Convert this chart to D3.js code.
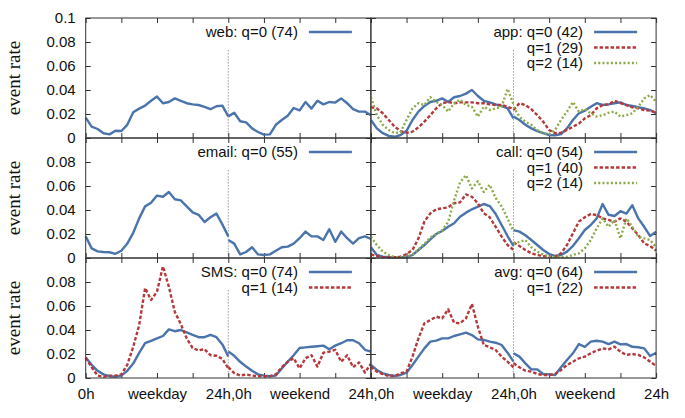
<!DOCTYPE html>
<html>
<head>
<meta charset="utf-8">
<script src="https://cdn.jsdelivr.net/npm/d3@7"></script>
<style>
body { margin: 0; background: #fff; }
</style>
</head>
<body>
<script>
// hour of the day for each sample, weekday and weekend both go 0h..24h
let hours = d3.range(0, 25);

// event rates : [weekday, weekend]
let webQ0 = [
    [0.017, 0.0095, 0.0075, 0.004, 0.003, 0.006, 0.0058, 0.011, 0.0215, 0.0245, 0.027, 0.031, 0.0345, 0.029, 0.030, 0.033, 0.031, 0.029, 0.028, 0.0275, 0.026, 0.024, 0.0265, 0.027, 0.018],
    [0.018, 0.021, 0.014, 0.013, 0.008, 0.005, 0.0028, 0.003, 0.011, 0.015, 0.0185, 0.025, 0.023, 0.030, 0.0245, 0.031, 0.028, 0.030, 0.0295, 0.033, 0.029, 0.024, 0.022, 0.022, 0.019]
];
let emailQ0 = [
    [0.018, 0.008, 0.0055, 0.005, 0.0048, 0.0035, 0.006, 0.012, 0.021, 0.033, 0.043, 0.046, 0.052, 0.051, 0.055, 0.049, 0.048, 0.043, 0.038, 0.036, 0.030, 0.034, 0.037, 0.028, 0.018],
    [0.015, 0.012, 0.003, 0.005, 0.009, 0.003, 0.0025, 0.003, 0.006, 0.009, 0.0095, 0.012, 0.0165, 0.022, 0.018, 0.018, 0.015, 0.024, 0.0135, 0.022, 0.0165, 0.012, 0.0165, 0.018, 0.016]
];
let smsQ0 = [
    [0.017, 0.011, 0.006, 0.003, 0.0015, 0.001, 0.002, 0.006, 0.012, 0.021, 0.029, 0.031, 0.033, 0.035, 0.0405, 0.039, 0.040, 0.038, 0.036, 0.034, 0.034, 0.036, 0.034, 0.028, 0.018],
    [0.022, 0.0185, 0.0135, 0.0095, 0.006, 0.003, 0.002, 0.0015, 0.002, 0.008, 0.0135, 0.019, 0.025, 0.0255, 0.026, 0.0265, 0.027, 0.024, 0.027, 0.029, 0.0315, 0.0315, 0.029, 0.0235, 0.022]
];
let smsQ1 = [
    [0.017, 0.009, 0.002, 0.001, 0.002, 0.002, 0.003, 0.011, 0.026, 0.044, 0.075, 0.065, 0.072, 0.093, 0.076, 0.055, 0.045, 0.033, 0.025, 0.023, 0.024, 0.019, 0.0185, 0.016, 0.008],
    [0.009, 0.004, 0.002, 0.003, 0.002, 0.0015, 0.0015, 0.0015, 0.003, 0.009, 0.0135, 0.0165, 0.008, 0.0165, 0.019, 0.0095, 0.021, 0.022, 0.0235, 0.0135, 0.019, 0.009, 0.013, 0.0045, 0.012]
];
let appQ0 = [
    [0.015, 0.008, 0.004, 0.0017, 0.001, 0.0025, 0.006, 0.015, 0.022, 0.0267, 0.030, 0.031, 0.033, 0.030, 0.034, 0.035, 0.037, 0.040, 0.035, 0.031, 0.0297, 0.028, 0.0267, 0.0247, 0.0164],
    [0.0178, 0.015, 0.011, 0.008, 0.0058, 0.004, 0.0025, 0.0022, 0.0033, 0.008, 0.015, 0.0206, 0.0228, 0.026, 0.029, 0.0275, 0.028, 0.029, 0.0297, 0.0275, 0.0267, 0.0256, 0.0247, 0.0233, 0.0206]
];
let appQ1 = [
    [0.0256, 0.0247, 0.0206, 0.015, 0.0094, 0.0058, 0.0044, 0.0053, 0.0089, 0.0136, 0.019, 0.0247, 0.029, 0.030, 0.029, 0.0297, 0.0297, 0.0297, 0.029, 0.029, 0.028, 0.0275, 0.0275, 0.026, 0.024],
    [0.0233, 0.029, 0.0275, 0.024, 0.019, 0.0136, 0.0067, 0.004, 0.0044, 0.0067, 0.0094, 0.012, 0.0164, 0.019, 0.0247, 0.0275, 0.028, 0.031, 0.029, 0.0275, 0.0256, 0.0247, 0.0233, 0.0228, 0.021]
];
let appQ2 = [
    [0.034, 0.019, 0.011, 0.0067, 0.004, 0.005, 0.015, 0.0247, 0.029, 0.0275, 0.034, 0.030, 0.0275, 0.022, 0.029, 0.032, 0.0275, 0.026, 0.0178, 0.026, 0.0233, 0.0247, 0.026, 0.041, 0.028],
    [0.026, 0.0178, 0.0136, 0.011, 0.0067, 0.004, 0.0033, 0.0067, 0.015, 0.022, 0.030, 0.022, 0.024, 0.0206, 0.0178, 0.019, 0.021, 0.022, 0.0178, 0.019, 0.0206, 0.026, 0.033, 0.0358, 0.030]
];
let callQ0 = [
    [0.0089, 0.0025, 0.0011, 0.0006, 0.0005, 0.0005, 0.0006, 0.0025, 0.0067, 0.0108, 0.0156, 0.020, 0.0225, 0.026, 0.029, 0.0344, 0.0378, 0.0406, 0.0428, 0.045, 0.0433, 0.0367, 0.0275, 0.0183, 0.010],
    [0.0233, 0.022, 0.019, 0.015, 0.0108, 0.0067, 0.0033, 0.0017, 0.0025, 0.0053, 0.010, 0.0164, 0.0233, 0.0275, 0.033, 0.045, 0.036, 0.035, 0.039, 0.037, 0.044, 0.033, 0.026, 0.0183, 0.022]
];
let callQ1 = [
    [0.003, 0.0017, 0.0008, 0.0006, 0.0006, 0.0011, 0.0033, 0.0067, 0.0164, 0.0303, 0.0372, 0.0406, 0.0414, 0.0422, 0.0456, 0.0464, 0.053, 0.051, 0.0456, 0.0372, 0.0339, 0.026, 0.0178, 0.0108, 0.0067],
    [0.013, 0.010, 0.0067, 0.0039, 0.0025, 0.0017, 0.0011, 0.0011, 0.0039, 0.0108, 0.0206, 0.0303, 0.0339, 0.0367, 0.0358, 0.033, 0.0317, 0.0303, 0.033, 0.0303, 0.0247, 0.0192, 0.0122, 0.010, 0.0061]
];
let callQ2 = [
    [0.0178, 0.0108, 0.0053, 0.0025, 0.0006, 0.0006, 0.001, 0.003, 0.0072, 0.0117, 0.017, 0.020, 0.023, 0.030, 0.048, 0.063, 0.069, 0.058, 0.064, 0.055, 0.061, 0.050, 0.043, 0.033, 0.022],
    [0.012, 0.0135, 0.015, 0.0089, 0.0053, 0.003, 0.0011, 0.0008, 0.0008, 0.001, 0.0025, 0.0039, 0.008, 0.015, 0.0247, 0.033, 0.026, 0.0317, 0.0164, 0.033, 0.026, 0.0178, 0.0164, 0.015, 0.0089]
];
let avgQ0 = [
    [0.011, 0.0067, 0.0039, 0.0025, 0.0017, 0.0025, 0.0044, 0.0108, 0.0178, 0.0247, 0.0303, 0.0311, 0.033, 0.033, 0.035, 0.0364, 0.0378, 0.0358, 0.0322, 0.0317, 0.0303, 0.0294, 0.0275, 0.0211, 0.0136],
    [0.0206, 0.0178, 0.0122, 0.0072, 0.0072, 0.0033, 0.003, 0.0025, 0.0089, 0.015, 0.0206, 0.0283, 0.026, 0.0303, 0.031, 0.0303, 0.0283, 0.0303, 0.028, 0.0283, 0.026, 0.0256, 0.0247, 0.0183, 0.0211]
];
let avgQ1 = [
    [0.0094, 0.0053, 0.0033, 0.0017, 0.0017, 0.0039, 0.0053, 0.0178, 0.033, 0.0456, 0.0483, 0.0511, 0.0497, 0.0572, 0.0461, 0.0456, 0.0497, 0.0617, 0.0428, 0.0275, 0.0256, 0.0233, 0.0178, 0.0136, 0.0089],
    [0.0122, 0.0089, 0.0061, 0.0053, 0.0033, 0.0025, 0.0025, 0.0033, 0.0067, 0.0108, 0.0136, 0.0164, 0.0178, 0.0206, 0.0228, 0.0247, 0.0239, 0.0261, 0.0219, 0.0192, 0.020, 0.0192, 0.0172, 0.0136, 0.010]
];

let yTicks = [0, 0.02, 0.04, 0.06, 0.08, 0.1];
let xTicks = d3.range(0, 49, 6);
let xLabels = {0: "0h", 12: "weekday", 24: "24h,0h", 36: "weekend", 48: "24h"};

// one entry per panel, legend counts in brackets
let panels = [
    {row: 0, col: 0, name: "web", series: [{q: 0, n: 74, data: webQ0}]},
    {row: 0, col: 1, name: "app", series: [{q: 0, n: 42, data: appQ0}, {q: 1, n: 29, data: appQ1}, {q: 2, n: 14, data: appQ2}]},
    {row: 1, col: 0, name: "email", series: [{q: 0, n: 55, data: emailQ0}]},
    {row: 1, col: 1, name: "call", series: [{q: 0, n: 54, data: callQ0}, {q: 1, n: 40, data: callQ1}, {q: 2, n: 14, data: callQ2}]},
    {row: 2, col: 0, name: "SMS", series: [{q: 0, n: 74, data: smsQ0}, {q: 1, n: 14, data: smsQ1}]},
    {row: 2, col: 1, name: "avg", series: [{q: 0, n: 64, data: avgQ0}, {q: 1, n: 22, data: avgQ1}]}
];

let styles = [
    {color: "#4a74ab", dash: null},
    {color: "#b5393b", dash: "3.5,2"},
    {color: "#8cab48", dash: "2,2.2"}
];

let width = 685;
let height = 418;
let marges = {top: 18, left: 85.7};
let panelW = 285.2;
let panelH = 120;
let police = "'Liberation Sans', Arial, sans-serif";

let svg = d3.select("body").append("svg")
    .attr("width", width)
    .attr("height", height)
    .style("background", "#fff");

panels.forEach(function(p) {
    let x0 = marges.left + p.col * panelW;
    let y0 = marges.top + p.row * panelH;

    let x = d3.scaleLinear().domain([0, 48]).range([x0, x0 + panelW]);
    let y = d3.scaleLinear().domain([0, 0.1]).range([y0 + panelH, y0]);

    let g = svg.append("g").attr("class", "panel");

    // dotted separator between weekday and weekend
    g.append("line")
        .attr("x1", x(24)).attr("x2", x(24))
        .attr("y1", y(0.073)).attr("y2", y(0))
        .attr("stroke", "#6e6e6e")
        .attr("stroke-width", 1)
        .attr("stroke-dasharray", "1,2");

    // ticks on all four sides, pointing inwards
    let left = d3.axisLeft(y).tickValues(yTicks).tickSize(-5).tickPadding(10)
        .tickFormat(d => (p.col === 0 && (d < 0.09 || p.row === 0)) ? (d === 0 ? "0" : String(+d.toFixed(2))) : "");
    let right = d3.axisRight(y).tickValues(yTicks).tickSize(-5).tickFormat("");
    let top = d3.axisTop(x).tickValues(xTicks).tickSize(-5).tickFormat("");
    let bottom = d3.axisBottom(x).tickValues(xTicks).tickSize(-5).tickPadding(10)
        .tickFormat(function(d) {
            if (p.row !== 2) return "";
            if (p.col === 1 && d === 0) return "";
            if (p.col === 0 && d === 48) return "24h,0h";
            return xLabels[d] || "";
        });

    [[left, "translate(" + x0 + ",0)"], [right, "translate(" + (x0 + panelW) + ",0)"],
     [top, "translate(0," + y0 + ")"], [bottom, "translate(0," + (y0 + panelH) + ")"]]
        .forEach(function(a) {
            let ax = g.append("g")
                .attr("transform", a[1])
                .style("color", "#333")
                .style("font-family", police)
                .style("font-size", "15px")
                .call(a[0]);
            ax.select(".domain").remove();
            ax.selectAll("text").attr("fill", "#111");
        });

    // the curves, weekday and weekend drawn as two separate pieces
    let line = d3.line()
        .x(d => x(d.h))
        .y(d => y(d.v));

    p.series.forEach(function(s) {
        let st = styles[s.q];
        s.data.forEach(function(part, k) {
            let pts = hours.map((h, i) => ({h: h + 24 * k, v: part[i]}));
            g.append("path")
                .datum(pts)
                .attr("d", line)
                .attr("fill", "none")
                .attr("stroke", st.color)
                .attr("stroke-width", 2.4)
                .attr("stroke-linejoin", "round")
                .attr("stroke-dasharray", st.dash);
        });
    });

    // legend, top right of each panel
    let right0 = x0 + panelW;
    p.series.forEach(function(s, i) {
        let ly = y0 + 14 + i * 15.5;
        g.append("text")
            .attr("x", right0 - 73)
            .attr("y", ly)
            .attr("dy", "0.35em")
            .attr("text-anchor", "end")
            .style("font-family", police)
            .style("font-size", "15px")
            .attr("fill", "#111")
            .text((i === 0 ? p.name + ": " : "") + "q=" + s.q + " (" + s.n + ")");
        g.append("line")
            .attr("x1", right0 - 62).attr("x2", right0 - 19)
            .attr("y1", ly).attr("y2", ly)
            .attr("stroke", styles[s.q].color)
            .attr("stroke-width", 2.4)
            .attr("stroke-dasharray", styles[s.q].dash);
    });

    // frame
    g.append("rect")
        .attr("x", x0).attr("y", y0)
        .attr("width", panelW).attr("height", panelH)
        .attr("fill", "none")
        .attr("stroke", "#333")
        .attr("stroke-width", 1);

    // y title on the left column
    if (p.col === 0) {
        svg.append("text")
            .attr("transform", "translate(20," + (y0 + panelH / 2) + ") rotate(-90)")
            .attr("text-anchor", "middle")
            .style("font-family", "'Liberation Serif', 'Times New Roman', serif")
            .style("font-size", "19px")
            .attr("fill", "#111")
            .text("event rate");
    }
});
</script>
</body>
</html>
